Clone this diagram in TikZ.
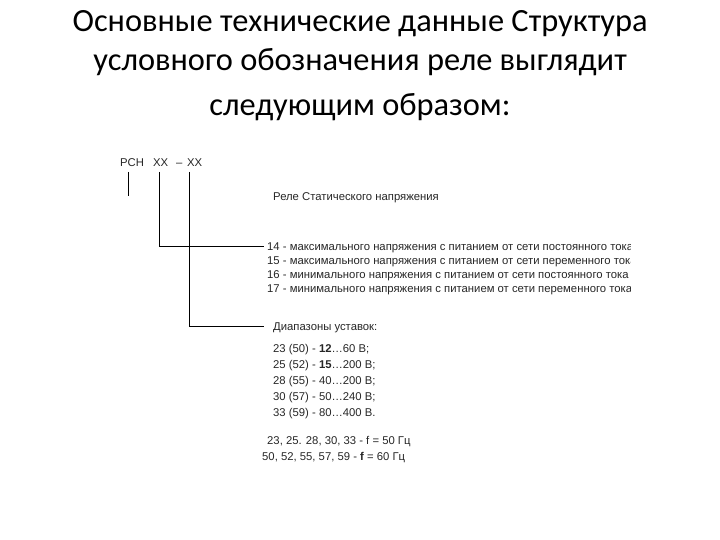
\documentclass[tikz,border=0pt]{standalone}
\usepackage{fontspec}
\setmainfont{Carlito}
\newfontfamily\arialf{Liberation Sans}
\begin{document}
\begin{tikzpicture}[x=1pt,y=-1pt,
  title/.style={font=\fontsize{32.4}{38}\selectfont, inner sep=0pt, anchor=base},
  small/.style={font=\arialf\fontsize{11.3}{13}\selectfont, inner sep=0pt, anchor=base west, text=black!85},
  wire/.style={line width=0.8pt, black}]
\useasboundingbox (0,0) rectangle (720,540);
% title
\node[title] (t1) at (360,32) {Основные технические данные Структура};
\node[title] (t2) at (360,71) {условного обозначения реле выглядит};
\node[title] (t3) at (360,116) {следующим образом:};
% code
\node[small] (rsn) at (120,167) {РСН};
\node[small] (xx1) at (153,167) {XX};
\node[small] (dash) at (176,167) {–};
\node[small] (xx2) at (187,167) {XX};
\coordinate (a0) at (128,172);
\coordinate (a1) at (128,196);
\coordinate (b0) at (159,172);
\coordinate (b1) at (159,246);
\coordinate (b2) at (264,246);
\coordinate (c0) at (189,172);
\coordinate (c1) at (189,326);
\coordinate (c2) at (264,326);
\draw[wire] (a0) -- (a1);
\draw[wire] (b0) -- (b1) -- (b2);
\draw[wire, line width=0.6pt] (c0) -- (c1) -- (c2);
\node[small] (rel) at (273,201) {Реле Статического напряжения};
\begin{scope}
\clip (260,230) rectangle (630,295);
\node[small] (l14) at (267,250) {14 - максимального напряжения с питанием от сети постоянного тока};
\node[small] (l15) at (267,264) {15 - максимального напряжения с питанием от сети переменного тока};
\node[small] (l16) at (267,278) {16 - минимального напряжения с питанием от сети постоянного тока};
\node[small] (l17) at (267,292) {17 - минимального напряжения с питанием от сети переменного тока};
\end{scope}
\node[small] (dia) at (273,330) {Диапазоны уставок:};
\node[small] (r1) at (273,352) {23 (50) - \textbf{12}…60 В;};
\node[small] (r2) at (273,368) {25 (52) - \textbf{15}…200 В;};
\node[small] (r3) at (273,384) {28 (55) - 40…200 В;};
\node[small] (r4) at (273,400) {30 (57) - 50…240 В;};
\node[small] (r5) at (273,416) {33 (59) - 80…400 В.};
\node[small] (f1) at (267,444) {23, 25. 28, 30, 33 - f = 50 Гц};
\node[small] (f2) at (262,460) {50, 52, 55, 57, 59 - \textbf{f} = 60 Гц};
\end{tikzpicture}
\end{document}
